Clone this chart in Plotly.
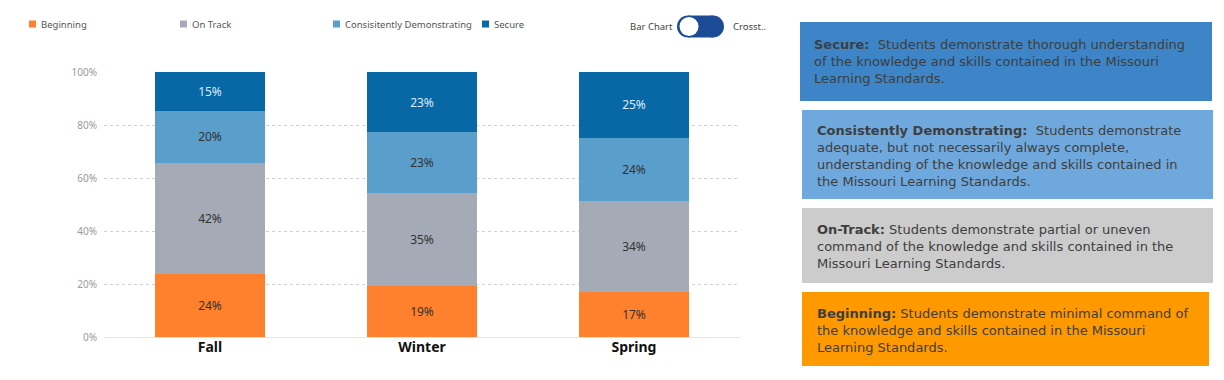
import plotly.graph_objects as go

# ---------------- data ----------------
terms = ["Fall", "Winter", "Spring"]
beginning = [23.8, 19.2, 17.1]
on_track = [41.9, 35.1, 34.2]
consistently = [19.7, 23.0, 23.8]
secure = [14.6, 22.6, 24.9]
y_ticks = [0, 20, 40, 60, 80, 100]
y_tick_labels = ["0%", "20%", "40%", "60%", "80%", "100%"]

legend_names = ["Beginning", "On Track", "Consisitently Demonstrating", "Secure"]

secure_desc = ["<b>Secure:</b>  Students demonstrate thorough understanding",
               "of the knowledge and skills contained in the Missouri",
               "Learning Standards."]
consistently_desc = ["<b>Consistently Demonstrating:</b>  Students demonstrate",
                     "adequate, but not necessarily always complete,",
                     "understanding of the knowledge and skills contained in",
                     "the Missouri Learning Standards."]
on_track_desc = ["<b>On-Track:</b> Students demonstrate partial or uneven",
                 "command of the knowledge and skills contained in the",
                 "Missouri Learning Standards."]
beginning_desc = ["<b>Beginning:</b> Students demonstrate minimal command of",
                  "the knowledge and skills contained in the Missouri",
                  "Learning Standards."]

W, H = 1224, 380


def px(x):
    return x / W


def py(y):
    return 1 - y / H


colors = {
    "Beginning": "#FF812D",
    "On Track": "#A4ABB7",
    "Consisitently Demonstrating": "#5A9ECC",
    "Secure": "#0868A5",
}
text_colors = {
    "Beginning": "#333333",
    "On Track": "#333333",
    "Consisitently Demonstrating": "#333333",
    "Secure": "#DCEBF7",
}

fig = go.Figure()
for name, vals in zip(legend_names, [beginning, on_track, consistently, secure]):
    fig.add_trace(go.Bar(
        x=terms, y=vals, name=name,
        marker=dict(color=colors[name], line=dict(width=0)),
        texttemplate="%{y:.0f}%", textposition="inside", insidetextanchor="middle",
        textfont=dict(family="Noto Sans", size=12, color=text_colors[name]),
        showlegend=False, hoverinfo="skip",
    ))

fig.update_layout(
    width=W, height=H,
    margin=dict(l=0, r=0, t=0, b=0, autoexpand=False),
    paper_bgcolor="white", plot_bgcolor="white",
    barmode="stack", bargap=0.48,
    xaxis=dict(domain=[px(104), px(740)], showgrid=False, showline=False, zeroline=False,
               automargin=False,
               tickfont=dict(family="Noto Sans", size=14, color="#111111", weight="bold"),
               ticks=""),
    yaxis=dict(domain=[py(337), py(72)], range=[0, 100], tickvals=y_ticks, ticktext=y_tick_labels,
               automargin=False,
               showgrid=True, gridcolor="#D0D0D0", griddash="dot", gridwidth=1,
               zeroline=True, zerolinecolor="#E6E6E6", zerolinewidth=1,
               tickfont=dict(family="Noto Sans", size=10, color="#9A9A9A"), ticks="",
               ticklabelstandoff=6),
    font=dict(family="Noto Sans"),
)

shapes = []
annotations = []

# ---- custom top legend ----
legend_x = [29, 180, 333, 482]
for name, lx in zip(legend_names, legend_x):
    shapes.append(dict(type="rect", xref="paper", yref="paper",
                       x0=px(lx), x1=px(lx + 7), y0=py(27.5), y1=py(20.5),
                       fillcolor=colors[name], line=dict(width=0)))
    annotations.append(dict(xref="paper", yref="paper", x=px(lx + 10), y=py(24.5),
                            text=name, showarrow=False, xanchor="left", yanchor="middle",
                            font=dict(family="Noto Sans", size=9.5, color="#555555")))

# ---- toggle ----
annotations.append(dict(xref="paper", yref="paper", x=px(675), y=py(26.5), text="Bar Chart",
                        showarrow=False, xanchor="right", yanchor="middle",
                        font=dict(family="Noto Sans", size=9.5, color="#444444")))
annotations.append(dict(xref="paper", yref="paper", x=px(731), y=py(26.5), text="Crosst..",
                        showarrow=False, xanchor="left", yanchor="middle",
                        font=dict(family="Noto Sans", size=9.5, color="#444444")))
tog = "#1D4C96"
shapes.append(dict(type="circle", xref="paper", yref="paper", x0=px(677), x1=px(699),
                   y0=py(37.5), y1=py(15.5), fillcolor=tog, line=dict(width=0)))
shapes.append(dict(type="circle", xref="paper", yref="paper", x0=px(702), x1=px(724),
                   y0=py(37.5), y1=py(15.5), fillcolor=tog, line=dict(width=0)))
shapes.append(dict(type="rect", xref="paper", yref="paper", x0=px(688), x1=px(713),
                   y0=py(37.5), y1=py(15.5), fillcolor=tog, line=dict(width=0)))
shapes.append(dict(type="circle", xref="paper", yref="paper", x0=px(679.5), x1=px(698.5),
                   y0=py(36), y1=py(17), fillcolor="white", line=dict(width=0)))

# ---- description boxes ----
FS = 13
LH = 1.3 * FS
boxes = [
    (800, 1212, 22, 101, "#3D85C6", 813, 44.3, secure_desc),
    (802, 1213, 110, 199, "#6FA8DC", 815.5, 131, consistently_desc),
    (802, 1213, 208, 283, "#CCCCCC", 815.5, 230, on_track_desc),
    (802, 1209, 292, 366, "#FF9900", 815.5, 313.3, beginning_desc),
]
for x0, x1, y0, y1, col, tx, ty, lines in boxes:
    shapes.append(dict(type="rect", xref="paper", yref="paper", x0=px(x0), x1=px(x1),
                       y0=py(y1), y1=py(y0), fillcolor=col, line=dict(width=0), layer="below"))
    cy = ty + (len(lines) - 1) * LH / 2
    annotations.append(dict(xref="paper", yref="paper", x=px(tx), y=py(cy),
                            text="<br>".join(lines), showarrow=False, xanchor="left",
                            yanchor="middle", align="left", borderpad=0,
                            font=dict(family="DejaVu Sans", size=FS, color="#3E3E3E")))

fig.update_layout(shapes=shapes, annotations=annotations)

fig.write_html(
    "out.html",
    config={"displayModeBar": False},
    post_script="document.body.style.margin='0';document.body.style.overflow='hidden';",
)
